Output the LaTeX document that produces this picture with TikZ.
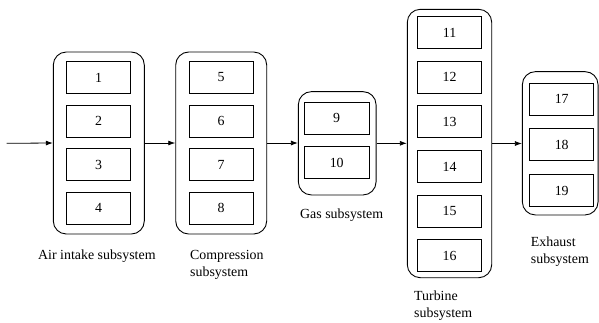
\documentclass[tikz,border=0pt]{standalone}
\usepackage{fontspec}
\setmainfont{Liberation Serif}
\usetikzlibrary{arrows.meta}
\begin{document}
\begin{tikzpicture}[x=1pt,y=-1pt,
  outer/.style={draw,line width=0.9pt,rounded corners=13pt,minimum width=#1,inner sep=0pt},
  inner/.style={draw,line width=0.9pt,minimum width=64pt,minimum height=32pt,inner sep=0pt,font=\fontsize{13.9}{16}\selectfont},
  lab/.style={font=\fontsize{13.9}{16.7}\selectfont,inner sep=0pt,align=left,anchor=north west},
  flow/.style={line width=0.8pt,-{Latex[length=7pt,width=5pt]}}]
\useasboundingbox (0,0) rectangle (599,322);
% outer containers
\node[outer=91pt,minimum height=182pt] (air) at (98.8,143) {};
\node[outer=91pt,minimum height=182pt] (comp) at (221.2,143) {};
\node[outer=77.7pt,minimum height=103.3pt] (gas) at (337.2,143.3) {};
\node[outer=84.4pt,minimum height=268.4pt] (turb) at (449.5,143.5) {};
\node[outer=75.7pt,minimum height=143.3pt] (exh) at (560.2,143.3) {};
% inner boxes
\node[inner] (b1) at (98.7,77.5) {1};
\node[inner] (b2) at (98.7,121.2) {2};
\node[inner] (b3) at (98.7,164.5) {3};
\node[inner] (b4) at (98.7,208.2) {4};
\node[inner] (b5) at (221.2,77.5) {5};
\node[inner] (b6) at (221.2,121.2) {6};
\node[inner] (b7) at (221.2,164.5) {7};
\node[inner] (b8) at (221.2,208.2) {8};
\node[inner,minimum width=65.3pt] (b9) at (336.7,118.2) {9};
\node[inner,minimum width=65.3pt] (b10) at (336.7,162.9) {10};
\node[inner] (b11) at (449.5,32.5) {11};
\node[inner] (b12) at (449.5,77.2) {12};
\node[inner] (b13) at (449.5,121.9) {13};
\node[inner] (b14) at (449.5,166.5) {14};
\node[inner] (b15) at (449.5,211.2) {15};
\node[inner] (b16) at (449.5,255.9) {16};
\node[inner] (b17) at (561.7,99.2) {17};
\node[inner] (b18) at (561.7,144.9) {18};
\node[inner] (b19) at (561.7,190.9) {19};
% labels
\node[lab] (lair) at (38,249.8) {Air intake subsystem};
\node[lab] (lcomp) at (190,249.9) {Compression\\subsystem};
\node[lab] (lgas) at (300,208.9) {Gas subsystem};
\node[lab] (lturb) at (414,290.5) {Turbine\\subsystem};
\node[lab] (lexh) at (530.7,236.5) {Exhaust\\subsystem};
% connectors
\coordinate (start) at (6.7,143.3);
\draw[flow] (start) -- (air.west);
\draw[flow] (air.east) -- (comp.west);
\draw[flow] (comp.east) -- (comp.east -| gas.west);
\draw[flow] (gas.east) -- (gas.east -| turb.west);
\draw[flow] (turb.east) -- (turb.east -| exh.west);
\end{tikzpicture}
\end{document}
